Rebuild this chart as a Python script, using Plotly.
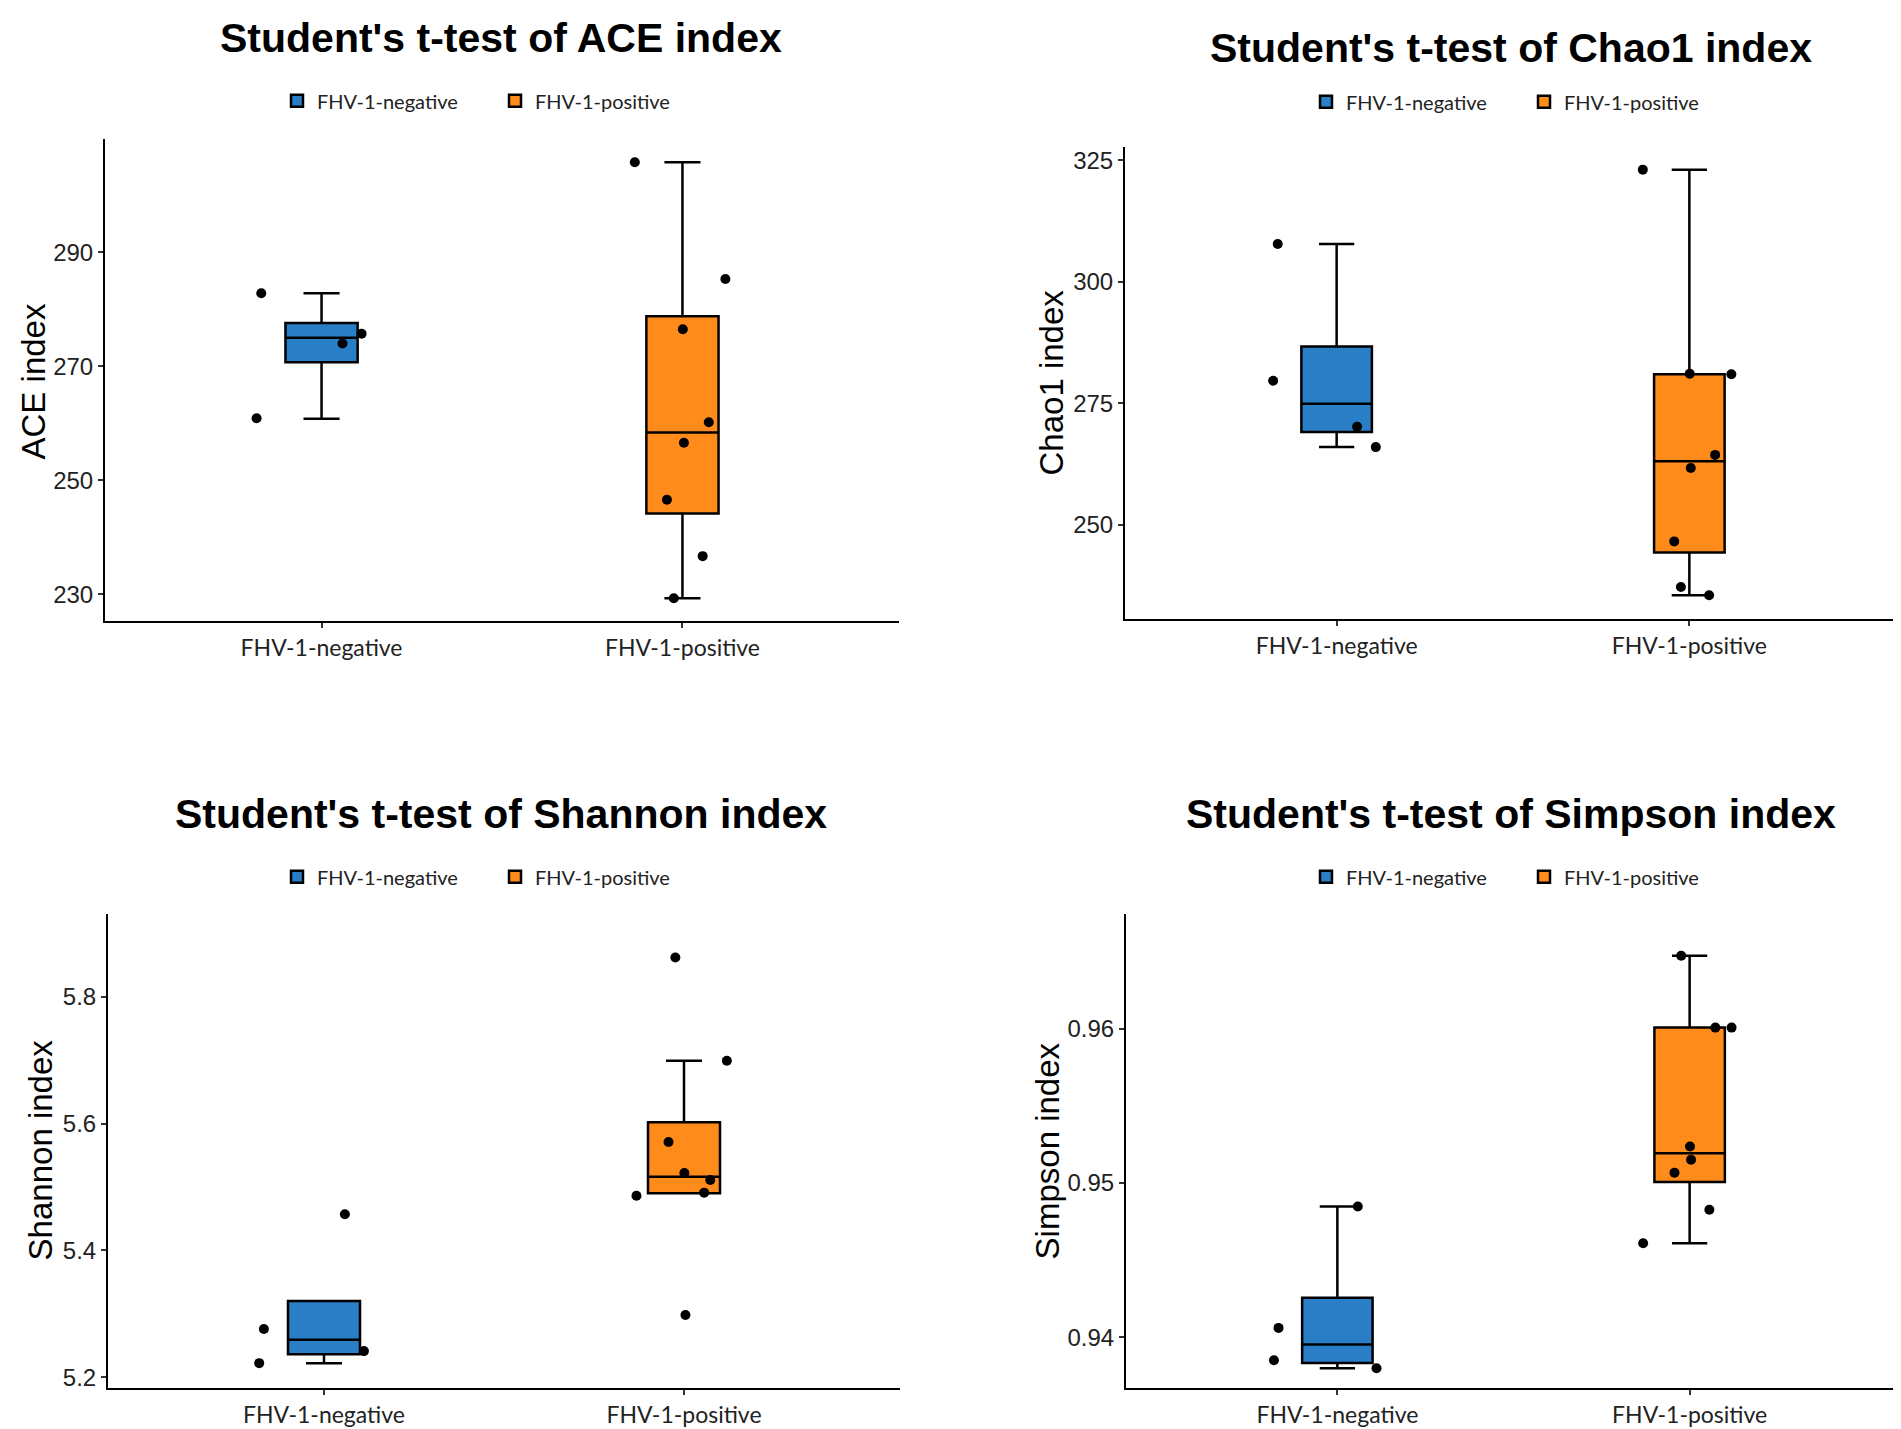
import plotly.graph_objects as go
from plotly.subplots import make_subplots

groups = ["FHV-1-negative", "FHV-1-positive"]
colors = ["#2A7EC6", "#FF8B1A"]

# jitter of each sample (same for every index), in category units
jitter_neg = [-0.167, -0.180, 0.058, 0.111]
jitter_pos = [-0.132, 0.119, 0.001, 0.073, 0.004, -0.043, 0.056, -0.024]

# sample values
ace_neg = [282.8, 260.9, 274.0, 275.7]
ace_pos = [305.8, 285.3, 276.5, 260.2, 256.6, 246.6, 236.7, 229.3]
chao_neg = [307.8, 279.65, 270.2, 266.0]
chao_pos = [323.1, 281.0, 281.1, 264.4, 261.7, 246.6, 235.5, 237.2]
shannon_neg = [5.276, 5.222, 5.457, 5.241]
shannon_pos = [5.486, 5.699, 5.522, 5.511, 5.298, 5.571, 5.491, 5.862]
simpson_neg = [0.94060, 0.93850, 0.94847, 0.93799]
simpson_pos = [0.94609, 0.96006, 0.95235, 0.96006, 0.95150, 0.95066, 0.94826, 0.96472]

# box stats as drawn: [lower whisker, q1, median, q3, upper whisker]
ace_box = [[260.8, 270.7, 275.0, 277.6, 282.8], [229.3, 244.2, 258.4, 278.8, 305.8]]
chao_box = [[266.0, 269.1, 274.9, 286.7, 307.8], [235.5, 244.3, 263.1, 281.0, 323.1]]
shannon_box = [[5.222, 5.236, 5.259, 5.320, 5.320], [5.490, 5.490, 5.516, 5.602, 5.699]]
simpson_box = [[0.93799, 0.93833, 0.93952, 0.94255, 0.94847],
               [0.94609, 0.95006, 0.95192, 0.96006, 0.96472]]

ace_ticks = [230, 250, 270, 290]
chao_ticks = [250, 275, 300, 325]
shannon_ticks = [5.2, 5.4, 5.6, 5.8]
simpson_ticks = [0.94, 0.95, 0.96]
ace_ticktext = ["230", "250", "270", "290"]
chao_ticktext = ["250", "275", "300", "325"]
shannon_ticktext = ["5.2", "5.4", "5.6", "5.8"]
simpson_ticktext = ["0.94", "0.95", "0.96"]

panels = [
    ("ACE", ace_neg, ace_pos, ace_box, ace_ticks, ace_ticktext, [225.3, 309.9]),
    ("Chao1", chao_neg, chao_pos, chao_box, chao_ticks, chao_ticktext, [230.6, 327.8]),
    ("Shannon", shannon_neg, shannon_pos, shannon_box, shannon_ticks, shannon_ticktext, [5.1827, 5.931]),
    ("Simpson", simpson_neg, simpson_pos, simpson_box, simpson_ticks, simpson_ticktext, [0.9367, 0.96744]),
]

W, H = 1901, 1429
# pixel boxes of the plot areas: left, right, top, bottom
areas = [(97, 891, 131, 614), (1117, 1893, 139, 612), (100, 892, 907, 1382), (1118, 1893, 907, 1382)]
title_pos = [(493, 30), (1503, 40), (493, 807), (1503, 807)]
legend_pos = [(283, 93), (1312, 94), (283, 870), (1312, 870)]
ytitle_pos = [(25, 374), (1043, 375), (32, 1144), (1039, 1145)]

fig = make_subplots(rows=2, cols=2)
legend_names = ["legend", "legend2", "legend3", "legend4"]
annotations = []

for i, (name, neg, pos, box, ticks, ticktext, yrange) in enumerate(panels):
    row, col = i // 2 + 1, i % 2 + 1
    for g in range(2):
        st = box[g]
        fig.add_trace(go.Box(
            x=[g + 1], lowerfence=[st[0]], q1=[st[1]], median=[st[2]], q3=[st[3]], upperfence=[st[4]],
            name=groups[g], width=0.2, whiskerwidth=0.5, fillcolor=colors[g],
            line=dict(color="black", width=2.5), boxpoints=False,
            legend=legend_names[i], showlegend=True, hoverinfo="skip"), row=row, col=col)
    for g, vals, jit in [(0, neg, jitter_neg), (1, pos, jitter_pos)]:
        fig.add_trace(go.Scatter(
            x=[g + 1 + j for j in jit], y=vals, mode="markers",
            marker=dict(color="black", size=10), showlegend=False), row=row, col=col)

    l, r, t, b = areas[i]
    fig.update_xaxes(domain=[l / W, r / W], range=[0.4, 2.6], tickvals=[1, 2], ticktext=groups,
                     showgrid=False, zeroline=False, showline=True, linecolor="black", linewidth=2,
                     ticks="outside", ticklen=5, tickcolor="#333", tickwidth=1.5,
                     tickfont=dict(family="Lato", size=23, color="#222"), row=row, col=col)
    fig.update_yaxes(domain=[1 - b / H, 1 - t / H], range=yrange, tickvals=ticks, ticktext=ticktext,
                     showgrid=False, zeroline=False, showline=True, linecolor="black", linewidth=2,
                     ticks="outside", ticklen=5, tickcolor="#333", tickwidth=1.5,
                     tickfont=dict(family="Liberation Sans", size=24, color="#222"), row=row, col=col)

    tx, ty = title_pos[i]
    annotations.append(dict(x=tx / W, y=1 - ty / H, xref="paper", yref="paper", showarrow=False,
                            text="<b>Student's t-test of %s index</b>" % name,
                            font=dict(family="Liberation Sans", size=41, color="black"),
                            xanchor="center", yanchor="middle"))
    ax_, ay_ = ytitle_pos[i]
    annotations.append(dict(x=ax_ / W, y=1 - ay_ / H, xref="paper", yref="paper", showarrow=False,
                            text="%s index" % name, textangle=-90,
                            font=dict(family="Liberation Sans", size=33, color="black"),
                            xanchor="center", yanchor="middle"))
    lx, ly = legend_pos[i]
    fig.layout[legend_names[i]] = dict(
        orientation="h", x=(lx - 14) / W, y=1 - ly / H, xanchor="left", yanchor="middle",
        font=dict(family="Lato", size=20, color="#222"), bgcolor="rgba(0,0,0,0)",
        entrywidth=173, entrywidthmode="pixels")

fig.update_layout(width=W, height=H, margin=dict(l=0, r=0, t=0, b=0),
                  paper_bgcolor="white", plot_bgcolor="white",
                  annotations=annotations)

fig.write_html("out.html")
